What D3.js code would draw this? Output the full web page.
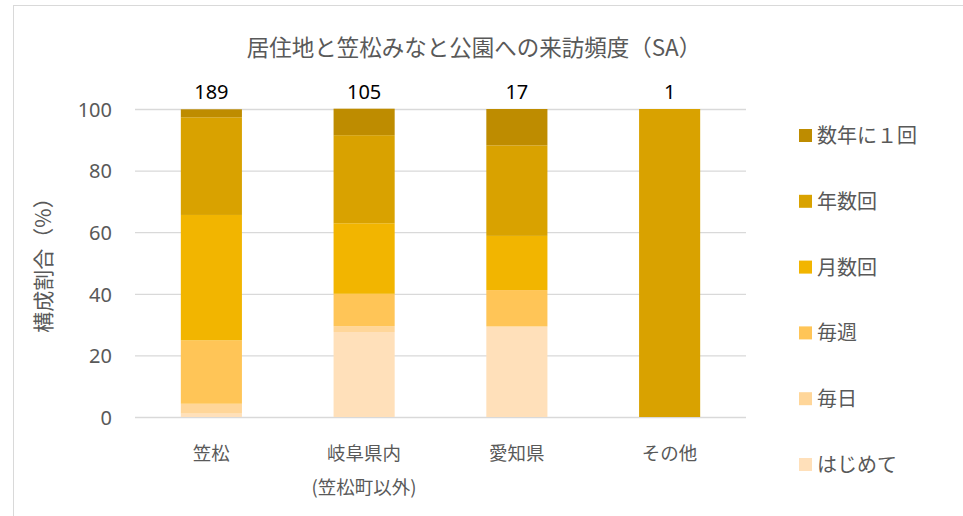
<!DOCTYPE html>
<html><head><meta charset="utf-8">
<script src="https://cdn.jsdelivr.net/npm/d3@7"></script>
<style>body{margin:0;background:#fff}svg{display:block}text{font-family:"Noto Sans CJK JP","Noto Sans",sans-serif}</style>
</head><body>
<script>
const categories = ["笠松", "岐阜県内\n(笠松町以外)", "愛知県", "その他"];
const totals = [189, 105, 17, 1];
const seriesNames = ["はじめて", "毎日", "毎週", "月数回", "年数回", "数年に１回"];
const hajimete = [1.1, 27.6, 29.4, 0];
const mainichi = [3.2, 1.9, 0, 0];
const maishu = [20.6, 10.5, 11.8, 0];
const getsu = [40.7, 22.9, 17.6, 0];
const nen = [31.7, 28.6, 29.4, 100];
const sunen = [2.6, 8.6, 11.8, 0];
const yTicks = [0, 20, 40, 60, 80, 100];
const colors = ["#FFE0BA", "#FFD699", "#FFC557", "#F2B500", "#D9A200", "#BE8C00"];

const W = 963, H = 516;
const svg = d3.select("body").append("svg").attr("width", W).attr("height", H);
svg.append("rect").attr("x", 13.5).attr("y", 5.5).attr("width", 960).attr("height", 520)
  .attr("fill", "#fff").attr("stroke", "#D9D9D9").attr("stroke-width", 1);

const plot = {l: 135, r: 746, t: 109, b: 417};
const x = d3.scaleBand().domain(d3.range(categories.length)).range([plot.l, plot.r]).paddingInner(0.6).paddingOuter(0.3);
const y = d3.scaleLinear().domain([0, 100]).range([plot.b, plot.t]);

// gridlines
const yAxis = d3.axisLeft(y).tickValues(yTicks).tickSize(-(plot.r - plot.l)).tickPadding(23);
const ga = svg.append("g").attr("transform", `translate(${plot.l},0)`).call(yAxis);
ga.select(".domain").remove();
ga.selectAll(".tick line").attr("stroke", "#D9D9D9").attr("stroke-width", 1.3);
ga.selectAll(".tick text").attr("fill", "#595959").attr("dy", "0.36em").style("font-size", "20px").style("font-family", "'Noto Sans',sans-serif");

const rows = categories.map((c, i) => {
  const o = {i};
  const vals = [hajimete, mainichi, maishu, getsu, nen, sunen];
  seriesNames.forEach((s, k) => o[s] = vals[k][i]);
  return o;
});
const stacked = d3.stack().keys(seriesNames)(rows);
stacked.forEach((layer, k) => {
  svg.append("g").attr("fill", colors[k]).selectAll("rect").data(layer).join("rect")
    .attr("x", d => x(d.data.i)).attr("width", x.bandwidth())
    .attr("y", d => y(d[1])).attr("height", d => Math.max(0, y(d[0]) - y(d[1])));
});

// totals
svg.append("g").selectAll("text").data(totals).join("text")
  .attr("x", (d, i) => x(i) + x.bandwidth() / 2).attr("y", 99)
  .attr("text-anchor", "middle").attr("fill", "#000").style("font-size", "20px")
  .style("font-family", "'Noto Sans',sans-serif").text(d => d);

// category labels
const xl = svg.append("g");
categories.forEach((c, i) => {
  c.split("\n").forEach((line, j) => {
    xl.append("text").attr("x", x(i) + x.bandwidth() / 2).attr("y", 460 + j * 34)
      .attr("text-anchor", "middle").attr("fill", "#595959").style("font-size", "18.5px").text(line);
  });
});

// title
svg.append("text").attr("x", 474).attr("y", 56).attr("text-anchor", "middle")
  .attr("fill", "#595959").style("font-size", "22.5px").text("居住地と笠松みなと公園への来訪頻度（SA）");

// y axis title
svg.append("text").attr("transform", "translate(42,260) rotate(-90)").attr("text-anchor", "middle")
  .attr("dominant-baseline", "central")
  .attr("fill", "#595959").style("font-size", "21px").text("構成割合（%）");

// legend
const legendOrder = seriesNames.map((s, k) => ({s, c: colors[k]})).reverse();
const lg = svg.append("g").selectAll("g").data(legendOrder).join("g")
  .attr("transform", (d, i) => `translate(799,${135.5 + i * 65.8})`);
lg.append("rect").attr("x", 0).attr("y", -6.5).attr("width", 13).attr("height", 13).attr("fill", d => d.c);
lg.append("text").attr("x", 18).attr("y", 7.5).attr("fill", "#595959").style("font-size", "20px").text(d => d.s);
</script>
</body></html>
